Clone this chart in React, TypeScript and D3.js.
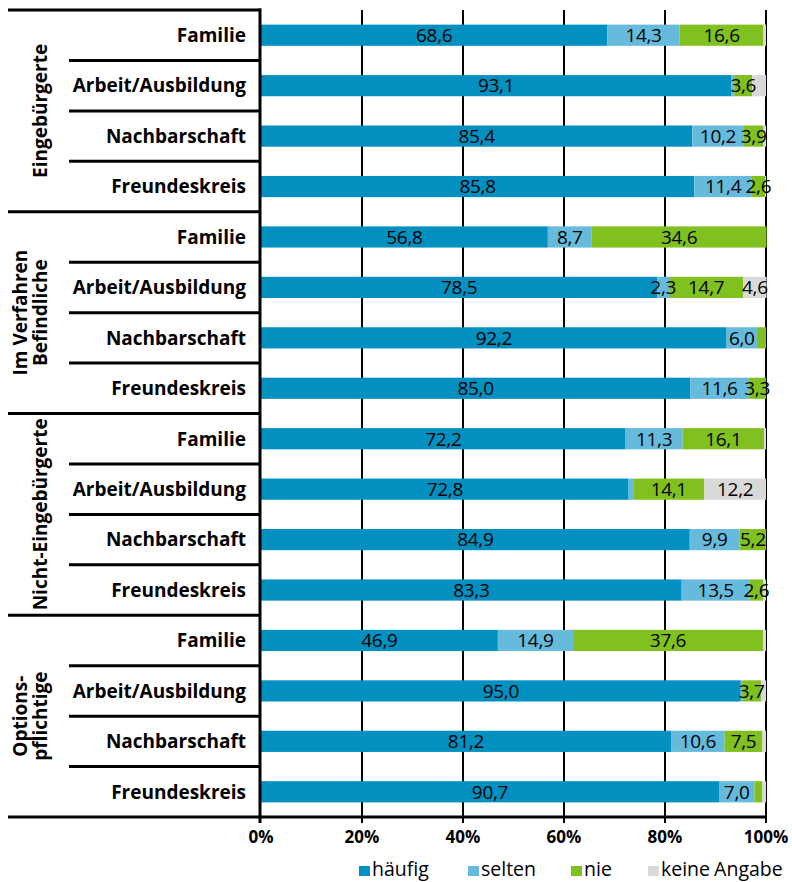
import React from "react";
import * as d3 from "d3";

const groupLines = [["Eingebürgerte"], ["Im Verfahren", "Befindliche"], ["Nicht-Eingebürgerte"], ["Options-", "pflichtige"]];
const categories = ["Familie", "Arbeit/Ausbildung", "Nachbarschaft", "Freundeskreis"];
const seriesNames = ["häufig", "selten", "nie", "keine Angabe"];
const seriesColors = ["#0190C0", "#66BADC", "#80C11F", "#D9D9D9"];

// rows: group-major, category-minor
const haeufig = [68.6, 93.1, 85.4, 85.8, 56.8, 78.5, 92.2, 85.0, 72.2, 72.8, 84.9, 83.3, 46.9, 95.0, 81.2, 90.7];
const selten = [14.3, 0.6, 10.2, 11.4, 8.7, 2.3, 6.0, 11.6, 11.3, 0.9, 9.9, 13.5, 14.9, 0.3, 10.6, 7.0];
const nie = [16.6, 3.6, 3.9, 2.6, 34.6, 14.7, 1.8, 3.3, 16.1, 14.1, 5.2, 2.6, 37.6, 3.7, 7.5, 1.6];
const keine = [0.5, 2.7, 0.5, 0.2, 0.0, 4.6, 0.0, 0.1, 0.4, 12.2, 0.0, 0.6, 0.6, 1.0, 0.7, 0.7];
const xTicks = [0, 20, 40, 60, 80, 100];

const FONT = "'Open Sans', 'DejaVu Sans', sans-serif";

export default function App() {
  const W = 792, H = 882;
  const left = 261, right = 766, top = 10, bottom = 817;
  const x = d3.scaleLinear().domain([0, 100]).range([left, right]);
  const rowKeys = d3.range(haeufig.length).map(String);
  const y = d3.scaleBand<string>().domain(rowKeys).range([top, bottom]).paddingInner(0.58).paddingOuter(0.29);
  const step = y.step();
  const series = [haeufig, selten, nie, keine];
  const rows = rowKeys.map((k, i) => {
    const obj: any = { key: k };
    seriesNames.forEach((s, j) => (obj[s] = series[j][i]));
    return obj;
  });
  const stacked = d3.stack<any>().keys(seriesNames)(rows);
  const fmt = (v: number) => v.toFixed(1).replace(".", ",");
  const showLabel = (si: number, v: number) => (si === 3 ? v >= 4 : v >= 2.2);

  const nCat = categories.length;
  const groupTop = (g: number) => top + g * nCat * step;

  return (
    <svg width={W} height={H} style={{ display: "block", position: "absolute", left: 0, top: 0 }}>
      <rect width={W} height={H} fill="#fff" />
      {/* gridlines */}
      {xTicks.slice(1).map((t) => (
        <line key={t} x1={x(t)} x2={x(t)} y1={top} y2={bottom} stroke="#000" strokeWidth={2} />
      ))}
      {/* bars */}
      {stacked.map((s, si) => (
        <g key={s.key}>
          {s.map((d, i) => (
            <rect key={i} x={x(d[0])} width={Math.max(0, x(d[1]) - x(d[0]))} y={y(String(i))!} height={y.bandwidth()} fill={seriesColors[si]} />
          ))}
        </g>
      ))}
      {/* value labels */}
      {stacked.map((s, si) => (
        <g key={"l" + s.key}>
          {s.map((d, i) => {
            if (!showLabel(si, series[si][i])) return null;
            return (
              <text key={i} x={(x(d[0]) + x(d[1])) / 2} y={y(String(i))! + y.bandwidth() / 2} dy="0.36em" textAnchor="middle" fontFamily={FONT} fontSize={19} letterSpacing={-0.3} fill="#000">
                {fmt(series[si][i])}
              </text>
            );
          })}
        </g>
      ))}
      {/* horizontal separators */}
      {rowKeys.map((k, i) => {
        if (i % nCat === 0) return null;
        const yy = top + i * step;
        return <line key={"s" + i} x1={69} x2={left} y1={yy} y2={yy} stroke="#000" strokeWidth={3} />;
      })}
      {groupLines.map((g, gi) => (
        <line key={"g" + gi} x1={8} x2={left} y1={groupTop(gi)} y2={groupTop(gi)} stroke="#000" strokeWidth={3} />
      ))}
      <line x1={8} x2={right + 1} y1={bottom} y2={bottom} stroke="#000" strokeWidth={3} />
      <line x1={left - 1} x2={left - 1} y1={top - 1.5} y2={bottom} stroke="#000" strokeWidth={3} />
      {/* ticks */}
      {xTicks.map((t) => (
        <g key={"t" + t}>
          <line x1={t === 0 ? left - 1 : x(t)} x2={t === 0 ? left - 1 : x(t)} y1={bottom} y2={bottom + 6} stroke="#000" strokeWidth={t === 0 ? 3 : 2} />
          <text x={x(t)} y={843} textAnchor="middle" fontFamily={FONT} fontWeight="bold" fontSize={17} fill="#000">
            {t}%
          </text>
        </g>
      ))}
      {/* category labels */}
      {rowKeys.map((k, i) => (
        <text key={"c" + i} x={246} y={y(k)! + y.bandwidth() / 2} dy="0.36em" textAnchor="end" fontFamily={FONT} fontWeight="bold" fontSize={19} fill="#000">
          {categories[i % nCat]}
        </text>
      ))}
      {/* group labels */}
      {groupLines.map((lines, gi) => {
        const cy = groupTop(gi) + (nCat * step) / 2;
        return lines.map((ln, li) => {
          const bx = 47 - (lines.length - 1 - li) * 20;
          return (
            <text key={"gl" + gi + li} transform={`translate(${bx},${cy}) rotate(-90)`} textAnchor="middle" fontFamily={FONT} fontWeight="bold" fontSize={19} fill="#000">
              {ln}
            </text>
          );
        });
      })}
      {/* legend */}
      {seriesNames.map((s, si) => {
        const lx = [359, 468, 571, 648][si];
        return (
          <g key={"lg" + s}>
            <rect x={lx} y={866} width={11} height={10} fill={seriesColors[si]} />
            <text x={lx + 13} y={876} fontFamily={FONT} fontSize={19.5} fill="#000" wordSpacing={-1}>
              {s}
            </text>
          </g>
        );
      })}
    </svg>
  );
}
